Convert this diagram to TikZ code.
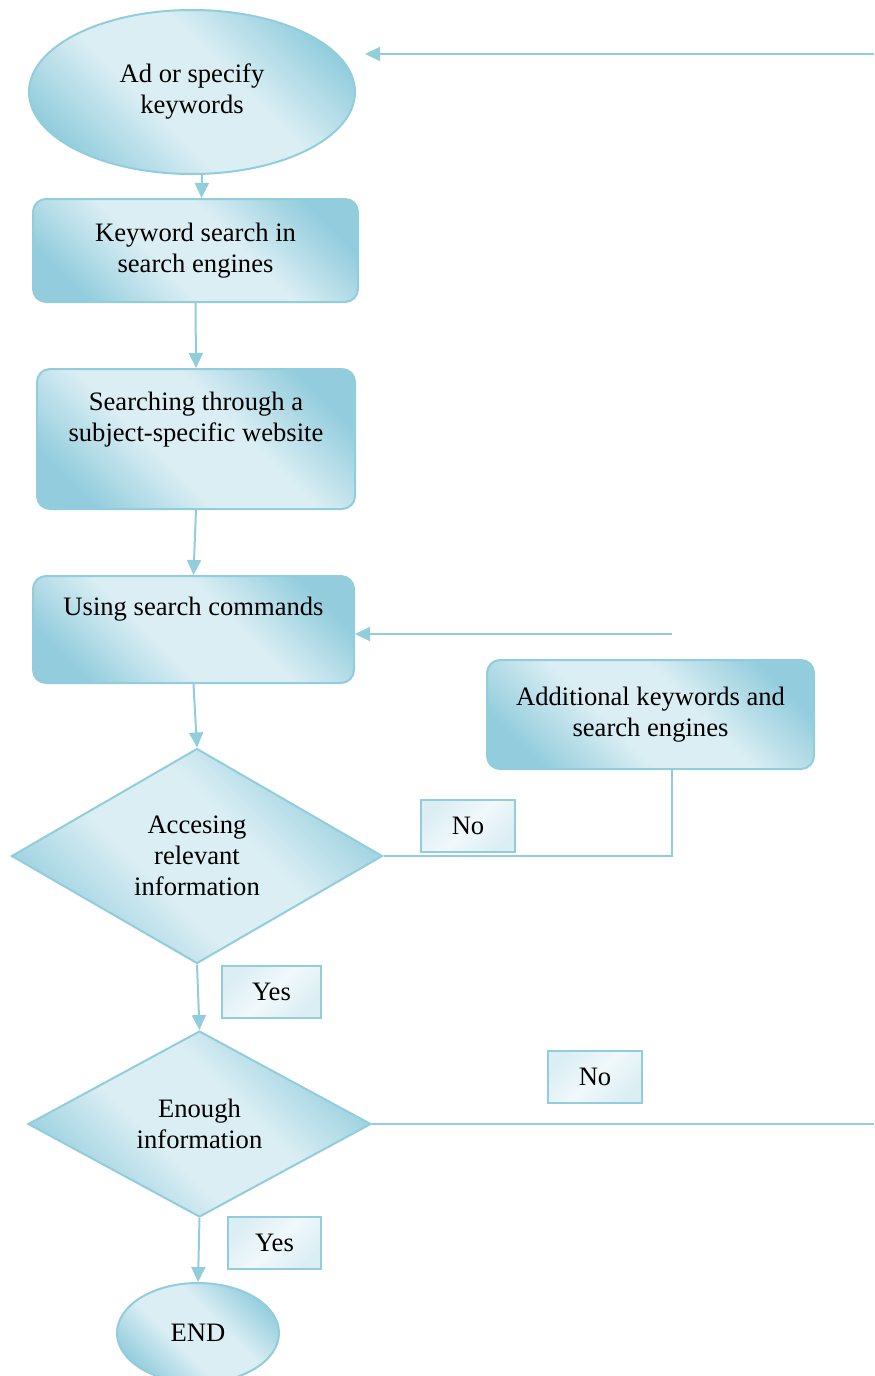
\documentclass[tikz,border=0pt]{standalone}
\usepackage{fontspec}
\setmainfont{Liberation Serif}
\definecolor{aquaedge}{RGB}{146,205,220}
\definecolor{aquadark}{RGB}{147,205,221}
\definecolor{aqualight}{RGB}{219,238,244}
\usetikzlibrary{shapes.geometric}
\usetikzlibrary{arrows.meta}
\pgfdeclareverticalshading{aquaband}{100bp}{color(0bp)=(aquadark); color(24bp)=(aquadark);
  color(42bp)=(aqualight); color(58bp)=(aqualight); color(76bp)=(aquadark); color(100bp)=(aquadark)}
\tikzset{
  flow/.style={draw=aquaedge, line width=1pt, shading=aquaband, shading angle=-45,
    font=\fontsize{13.3}{15.5}\selectfont, align=center, inner sep=0pt},
  procbox/.style={flow, rectangle, rounded corners=6.5pt},
  oval/.style={flow, ellipse},
  decision/.style={flow, diamond, aspect=1.7},
  answer/.style={draw=aquaedge, line width=1pt, top color=aqualight, bottom color=aqualight,
    middle color=aqualight!40, shading angle=45, font=\fontsize{13.3}{15.5}\selectfont,
    inner sep=0pt, minimum height=26pt},
  boxtext/.style={font=\fontsize{13.3}{15.5}\selectfont, align=center, inner sep=0pt},
  link/.style={draw=aquaedge, line width=1pt, -{Triangle[length=7.5pt,width=7pt]}},
  loopline/.style={draw=aquaedge, line width=1pt}
}

\begin{document}
\begin{tikzpicture}[x=0.5pt, y=-0.5pt]
  \useasboundingbox (0,0) rectangle (874,1376);

  % main column
  \node (keys) [oval, minimum width=163pt, minimum height=82pt] at (192,92) {Ad or specify\\keywords};
  \node (engine) [procbox, minimum width=162.5pt, minimum height=51.5pt] at (195.5,250.5) {Keyword search in\\search engines};
  \node (web) [procbox, minimum width=159pt, minimum height=70pt] at (196,439) {};
  \node (webtext) [boxtext] at (196,420) {Searching through a\\subject-specific website};
  \node (cmds) [procbox, minimum width=160.5pt, minimum height=53.5pt] at (193.5,629.5) {};
  \node (cmdstext) [boxtext] at (193.5,609) {Using search commands};
  \node (acc) [decision, minimum width=185.5pt, minimum height=107.5pt] at (197,856) {Accesing\\relevant\\information};
  \node (enough) [decision, minimum width=171.5pt, minimum height=93pt] at (199.5,1124) {Enough\\information};
  \node (finish) [oval, minimum width=81pt, minimum height=50pt] at (198,1333) {END};

  % side box
  \node (extra) [procbox, minimum width=163.5pt, minimum height=54.5pt] at (650.5,714.5) {Additional keywords and\\search engines};

  % answers
  \node (no1) [answer, minimum width=47pt] at (468,826) {No};
  \node (yes1) [answer, minimum width=49.5pt] at (271.5,992) {Yes};
  \node (no2) [answer, minimum width=47pt] at (595,1077) {No};
  \node (yes2) [answer, minimum width=46.5pt] at (274.5,1243) {Yes};

  % free ends of the loops
  \coordinate (topin) at (874,54);
  \coordinate (toptip) at (365,54);
  \coordinate (extrain) at (672,634);
  \coordinate (rightout) at (874,1124);

  \draw [link] ([xshift=5pt]keys.south) -- ([xshift=3pt]engine.north);
  \draw [link] (engine.south) -- (web.north);
  \draw [link] (web.south) -- (cmds.north);
  \draw [link] (cmds.south) -- (acc.north);
  \draw [link] (acc.south) -- (enough.north);
  \draw [link] (enough.south) -- (finish.north);

  \draw [link] (topin) -- (toptip);
  \draw [link] (extrain) -- (cmds.east |- extrain);
  \draw [loopline] (extra.south -| extrain) |- (acc.east);
  \draw [loopline] (enough.east) -- (rightout);

\end{tikzpicture}
\end{document}
